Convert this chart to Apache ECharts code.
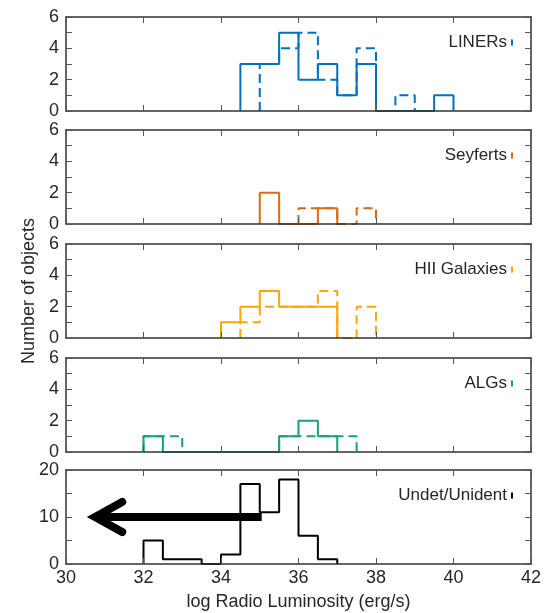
<!DOCTYPE html>
<html>
<head>
<meta charset="utf-8">
<script src="https://cdn.jsdelivr.net/npm/echarts@6/dist/echarts.min.js"></script>
<style>
  html, body { margin: 0; padding: 0; background: #fff; }
  #chart { width: 547px; height: 613px; }
</style>
</head>
<body>
<div id="chart"></div>
<script>
// histogram counts per 0.5 dex bin, starting at the given left edge
var linersSolidStart = 34.5, linersSolid = [3, 3, 5, 2, 3, 1, 3, 0, 0, 0, 1];
var linersDashStart = 35, linersDashed = [3, 4, 5, 2, 1, 4, 0, 1];
var seyfertsSolidStart = 35, seyfertsSolid = [2, 0, 0, 1];
var seyfertsDashStart = 36, seyfertsDashed = [1, 1, 0, 1];
var hiiSolidStart = 34, hiiSolid = [1, 2, 3, 2, 2, 2];
var hiiDashStart = 34.5, hiiDashed = [1, 2, 2, 2, 3, 0, 2];
var algsSolidStart = 32, algsSolid = [1, 0, 0, 0, 0, 0, 0, 1, 2, 1];
var algsDashStart = 32, algsDashed = [1, 1, 0, 0, 0, 0, 0, 1, 1, 1, 1];
var undetSolidStart = 32, undetSolid = [5, 1, 1, 0, 2, 17, 11, 18, 6, 1];

// upper-limit arrow in the bottom panel
var arrowShaft = [[35.05, 10], [30.8, 10]];
var arrowHead = [[31.45, 13.2], [30.75, 10], [31.45, 6.8]];

var panelNames = ['LINERs', 'Seyferts', 'HII Galaxies', 'ALGs', 'Undet/Unident'];
var panelColors = ['#0072bd', '#dd6a12', '#ffa500', '#17a07c', '#000000'];

var binWidth = 0.5;
var font = "'Liberation Sans', Arial, sans-serif";
var textColor = '#262626';

function stairs(start, counts) {
    var pts = [[start, 0]];
    for (var i = 0; i < counts.length; i++) {
        pts.push([start + i * binWidth, counts[i]]);
    }
    pts.push([start + counts.length * binWidth, 0]);
    return pts;
}

var chart = echarts.init(document.getElementById('chart'));

var tops = [17, 130, 244, 358, 470];
var grids = [], xAxes = [], yAxes = [], legends = [], series = [];

var lineStyleAxis = {color: '#333', width: 1.5};
var tickStyle = {color: '#555', width: 1};

tops.forEach(function (top, i) {
    var last = i === tops.length - 1;
    grids.push({left: 66, right: 16, top: top, height: 94});

    xAxes.push({
        type: 'value', gridIndex: i, min: 30, max: 42, interval: 2, z: 5,
        axisLine: {onZero: false, lineStyle: lineStyleAxis},
        axisTick: {inside: true, length: 6, lineStyle: tickStyle},
        axisLabel: {show: last, margin: 5, fontSize: 18, fontFamily: font, color: textColor},
        splitLine: {show: false},
        name: last ? 'log Radio Luminosity (erg/s)' : '',
        nameLocation: 'middle', nameGap: 29,
        nameTextStyle: {fontSize: 18, fontFamily: font, color: textColor}
    });
    xAxes.push({
        type: 'value', gridIndex: i, min: 30, max: 42, interval: 2, z: 5, position: 'top',
        axisLine: {onZero: false, lineStyle: lineStyleAxis},
        axisTick: {inside: true, length: 6, lineStyle: tickStyle},
        axisLabel: {show: false}, splitLine: {show: false}
    });

    var yMax = last ? 20 : 6;
    var yStep = last ? 5 : 1;
    var labelStep = last ? 10 : 2;
    yAxes.push({
        type: 'value', gridIndex: i, min: 0, max: yMax, interval: yStep, z: 5,
        axisLine: {show: true, onZero: false, lineStyle: lineStyleAxis},
        axisTick: {show: true, inside: true, length: 6, lineStyle: tickStyle},
        axisLabel: {
            margin: 7, fontSize: 18, fontFamily: font, color: textColor,
            formatter: function (v) { return v % labelStep === 0 ? v : ''; }
        },
        splitLine: {show: false},
        name: i === 2 ? 'Number of objects' : '',
        nameLocation: 'middle', nameGap: 23,
        nameTextStyle: {fontSize: 18, fontFamily: font, color: textColor}
    });
    yAxes.push({
        type: 'value', gridIndex: i, min: 0, max: yMax, interval: yStep, z: 5, position: 'right',
        axisLine: {show: true, onZero: false, lineStyle: lineStyleAxis},
        axisTick: {show: true, inside: true, length: 6, lineStyle: tickStyle},
        axisLabel: {show: false}, splitLine: {show: false}
    });

    legends.push({
        data: [panelNames[i]], right: 34, top: top + 17, align: 'right',
        icon: 'rect', itemWidth: 2, itemHeight: 6, itemGap: 0, padding: 0,
        selectedMode: false,
        textStyle: {fontSize: 17, fontFamily: font, color: textColor, padding: [0, -1, 0, 0]}
    });
});

var solids = [
    [linersSolidStart, linersSolid], [seyfertsSolidStart, seyfertsSolid],
    [hiiSolidStart, hiiSolid], [algsSolidStart, algsSolid], [undetSolidStart, undetSolid]
];
var dashes = [
    [linersDashStart, linersDashed], [seyfertsDashStart, seyfertsDashed],
    [hiiDashStart, hiiDashed], [algsDashStart, algsDashed]
];

dashes.forEach(function (d, i) {
    series.push({
        name: panelNames[i] + ' (dashed)', type: 'line', step: 'end',
        xAxisIndex: i * 2, yAxisIndex: i * 2, data: stairs(d[0], d[1]),
        symbol: 'none', z: 2, animation: false,
        lineStyle: {color: panelColors[i], width: 2, type: [9, 5]}
    });
});
solids.forEach(function (d, i) {
    series.push({
        name: panelNames[i], type: 'line', step: 'end',
        xAxisIndex: i * 2, yAxisIndex: i * 2, data: stairs(d[0], d[1]),
        symbol: 'none', z: 3, animation: false,
        color: panelColors[i],
        lineStyle: {color: panelColors[i], width: 2}
    });
});

series.push({
    type: 'line', xAxisIndex: 8, yAxisIndex: 8, data: arrowShaft,
    symbol: 'none', z: 4, animation: false,
    lineStyle: {color: '#000', width: 8, cap: 'butt'}
});
series.push({
    type: 'line', xAxisIndex: 8, yAxisIndex: 8, data: arrowHead,
    symbol: 'none', z: 4, animation: false,
    lineStyle: {color: '#000', width: 8, cap: 'round', join: 'miter'}
});

option = {
    backgroundColor: '#fff',
    animation: false,
    grid: grids,
    xAxis: xAxes,
    yAxis: yAxes,
    legend: legends,
    series: series
};
chart.setOption(option);
</script>
</body>
</html>
